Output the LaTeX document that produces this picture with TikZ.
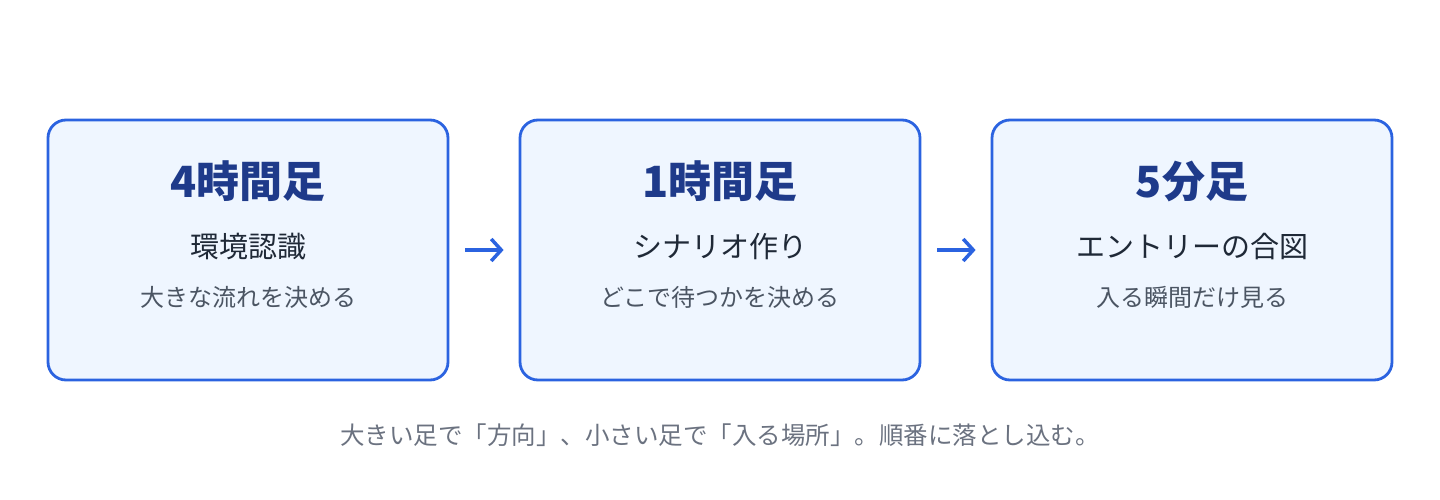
\documentclass[tikz,border=0pt]{standalone}
\usepackage{fontspec}
\setmainfont{Noto Sans CJK JP}
\usetikzlibrary{arrows.meta}
\definecolor{boxline}{HTML}{2B63E0}
\definecolor{boxfill}{HTML}{EFF6FF}
\definecolor{titleblue}{HTML}{1E3A8A}
\definecolor{subdark}{HTML}{1F2937}
\definecolor{notegray}{HTML}{4B5563}
\definecolor{capgray}{HTML}{6B7280}
\tikzset{
	tfbox/.style={draw=boxline, fill=boxfill, line width=2.8pt, rounded corners=18pt, minimum width=400pt, minimum height=260pt, inner sep=0pt},
	tftitle/.style={font=\bfseries\fontsize{43}{50}\selectfont, text=titleblue},
	tfsub/.style={font=\fontsize{29}{34}\selectfont, text=subdark},
	tfnote/.style={font=\fontsize{24}{29}\selectfont, text=notegray},
	tfarrow/.style={draw=boxline, line width=3.5pt, -{Straight Barb[length=10pt,width=22pt]}, shorten <=16pt, shorten >=15pt}
}

\begin{document}
\begin{tikzpicture}[x=1pt, y=-1pt]
			%%%%% START %%%%%
			\useasboundingbox (0, 0) rectangle (1440, 500);
			
			\node[tfbox] (h4) at (248, 250) {};
			\node[tftitle] (h4title) at (248, 181) {4時間足};
			\node[tfsub] (h4sub) at (248, 247) {環境認識};
			\node[tfnote] (h4note) at (248, 297) {大きな流れを決める};
			
			\node[tfbox] (h1) at (720, 250) {};
			\node[tftitle] (h1title) at (720, 181) {1時間足};
			\node[tfsub] (h1sub) at (720, 247) {シナリオ作り};
			\node[tfnote] (h1note) at (720, 297) {どこで待つかを決める};
			
			\node[tfbox] (m5) at (1192, 250) {};
			\node[tftitle] (m5title) at (1192, 181) {5分足};
			\node[tfsub] (m5sub) at (1192, 247) {エントリーの合図};
			\node[tfnote] (m5note) at (1192, 297) {入る瞬間だけ見る};
			
			\draw[tfarrow] (h4) -- (h1);
			\draw[tfarrow] (h1) -- (m5);
			
			\node[font=\fontsize{24.5}{30}\selectfont, text=capgray] (caption) at (720, 435) {大きい足で「方向」、小さい足で「入る場所」。順番に落とし込む。};
			
			%%%%% END %%%%%
		\end{tikzpicture}
\end{document}
